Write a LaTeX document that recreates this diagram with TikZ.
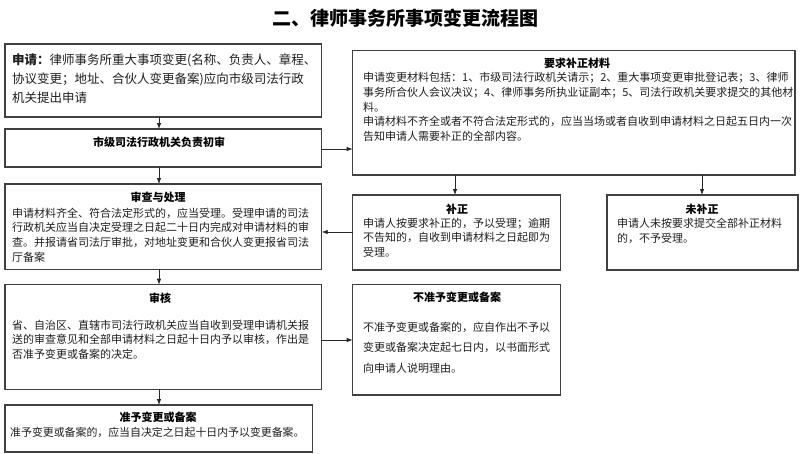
\documentclass[tikz,border=0pt]{standalone}
\usepackage{fontspec}
\setmainfont{Noto Sans CJK SC}
\usetikzlibrary{arrows.meta}
\XeTeXlinebreaklocale "zh"
\XeTeXlinebreakskip=0pt plus 2pt
\newcommand\jl[2]{\makebox[#1][s]{#2}}
\newcommand\fs[2]{\fontsize{#1}{#2}\selectfont}
\begin{document}
\begin{tikzpicture}[x=1pt,y=-1pt,
  box/.style={draw=black!75, line width=1.1pt, anchor=north west, inner sep=0pt, outer sep=0pt},
  txt/.style={anchor=base west, inner sep=0pt, align=left, text=black!88, text width=#1},
  ttl/.style={anchor=base, inner sep=0pt, text=black, font=\fs{11}{13}\bfseries},
  arr/.style={draw=black!85, line width=0.8pt, -{Latex[length=6pt,width=4.5pt]}},
  ln/.style={draw=black!85, line width=0.8pt}]
\useasboundingbox (0,0) rectangle (800,453);
\fill[white] (0,0) rectangle (800,453);
\node[anchor=base, inner sep=0pt, font=\fs{19}{22}\bfseries] (title) at (405,25) {二、律师事务所事项变更流程图};
% boxes
\node[box, minimum width=316.7, minimum height=73] (A) at (5,44) {};
\node[box, minimum width=316.7, minimum height=38] (B) at (5,129) {};
\node[box, minimum width=442.3, minimum height=124.3] (C) at (352.7,50.7) {};
\node[box, minimum width=208, minimum height=75] (D) at (352.7,195) {};
\node[box, minimum width=191, minimum height=75] (E) at (607,195) {};
\node[box, minimum width=316.7, minimum height=85.3] (F) at (5,184) {};
\node[box, minimum width=316.7, minimum height=104.6] (G) at (5,284.7) {};
\node[box, minimum width=208, minimum height=110.3] (H) at (352.7,284.7) {};
\node[box, minimum width=307.7, minimum height=47] (I) at (5,405) {};
% texts
\node[txt=310pt, font=\fs{12.5}{19}] (At) at (12,64.8) {\jl{306pt}{\textbf{申请：}律师事务所重大事项变更(名称、负责人、章程、}\\
\jl{300pt}{协议变更；地址、合伙人变更备案)应向市级司法行政}\\
机关提出申请};
\node[ttl] (Bt) at (159,146.2) {市级司法行政机关负责初审};
\node[ttl] (Ct) at (577,67.2) {要求补正材料};
\node[txt=432pt, font=\fs{11}{14.6}] (Cb) at (363,81.9) {\jl{429pt}{申请变更材料包括：1、市级司法行政机关请示；2、重大事项变更审批登记表；3、律师}\\
\jl{429pt}{事务所合伙人会议决议；4、律师事务所执业证副本；5、司法行政机关要求提交的其他材}\\
料。\\
\jl{429pt}{申请材料不齐全或者不符合法定形式的，应当当场或者自收到申请材料之日起五日内一次}\\
告知申请人需要补正的全部内容。};
\node[ttl] (Dt) at (457,213.2) {补正};
\node[txt=196pt, font=\fs{11}{14.6}] (Db) at (363,227.2) {\jl{194pt}{申请人按要求补正的，予以受理；逾期}\\
\jl{194pt}{不告知的，自收到申请材料之日起即为}\\
受理。};
\node[ttl] (Et) at (702,213.2) {未补正};
\node[txt=176pt, font=\fs{11}{15}] (Eb) at (617,227.2) {\jl{174pt}{申请人未按要求提交全部补正材料}\\
的，不予受理。};
\node[ttl] (Ft) at (158,201.2) {审查与处理};
\node[txt=308pt, font=\fs{11}{14.6}] (Fb) at (12,217.2) {\jl{306pt}{申请材料齐全、符合法定形式的，应当受理。受理申请的司法}\\
\jl{306pt}{行政机关应当自决定受理之日起二十日内完成对申请材料的审}\\
\jl{306pt}{查。并报请省司法厅审批，对地址变更和合伙人变更报省司法}\\
厅备案};
\node[ttl] (Gt) at (160,302.2) {审核};
\node[txt=302pt, font=\fs{11}{14.6}] (Gb) at (12,329.2) {\jl{300pt}{省、自治区、直辖市司法行政机关应当自收到受理申请机关报}\\
\jl{300pt}{送的审查意见和全部申请材料之日起十日内予以审核，作出是}\\
否准予变更或备案的决定。};
\node[ttl] (Ht) at (457,301.2) {不准予变更或备案};
\node[txt=190pt, font=\fs{11}{20.7}] (Hb) at (363,331.2) {\jl{188pt}{不准予变更或备案的，应自作出不予以}\\
\jl{188pt}{变更或备案决定起七日内，以书面形式}\\
向申请人说明理由。};
\node[ttl] (It) at (158,421.2) {准予变更或备案};
\node[txt=300pt, font=\fs{10.9}{14}] (Ib) at (10,436.2) {准予变更或备案的，应当自决定之日起十日内予以变更备案。};
% connectors
\draw[arr] (159,0 |- A.south) -- (159,0 |- B.north);
\draw[arr] (159,0 |- B.south) -- (159,0 |- F.north);
\draw[arr] (B.east |- 0,149) -- (C.west |- 0,149);
\draw[arr] (455,0 |- C.south) -- (455,0 |- D.north);
\draw[arr] (702,0 |- C.south) -- (702,0 |- E.north);
\draw[arr] (D.west |- 0,232) -- (F.east |- 0,232);
\draw[arr] (159,0 |- F.south) -- (159,0 |- G.north);
\draw[arr] (G.east |- 0,340) -- (H.west |- 0,340);
\draw[arr] (159,0 |- G.south) -- (159,0 |- I.north);
\end{tikzpicture}
\end{document}
